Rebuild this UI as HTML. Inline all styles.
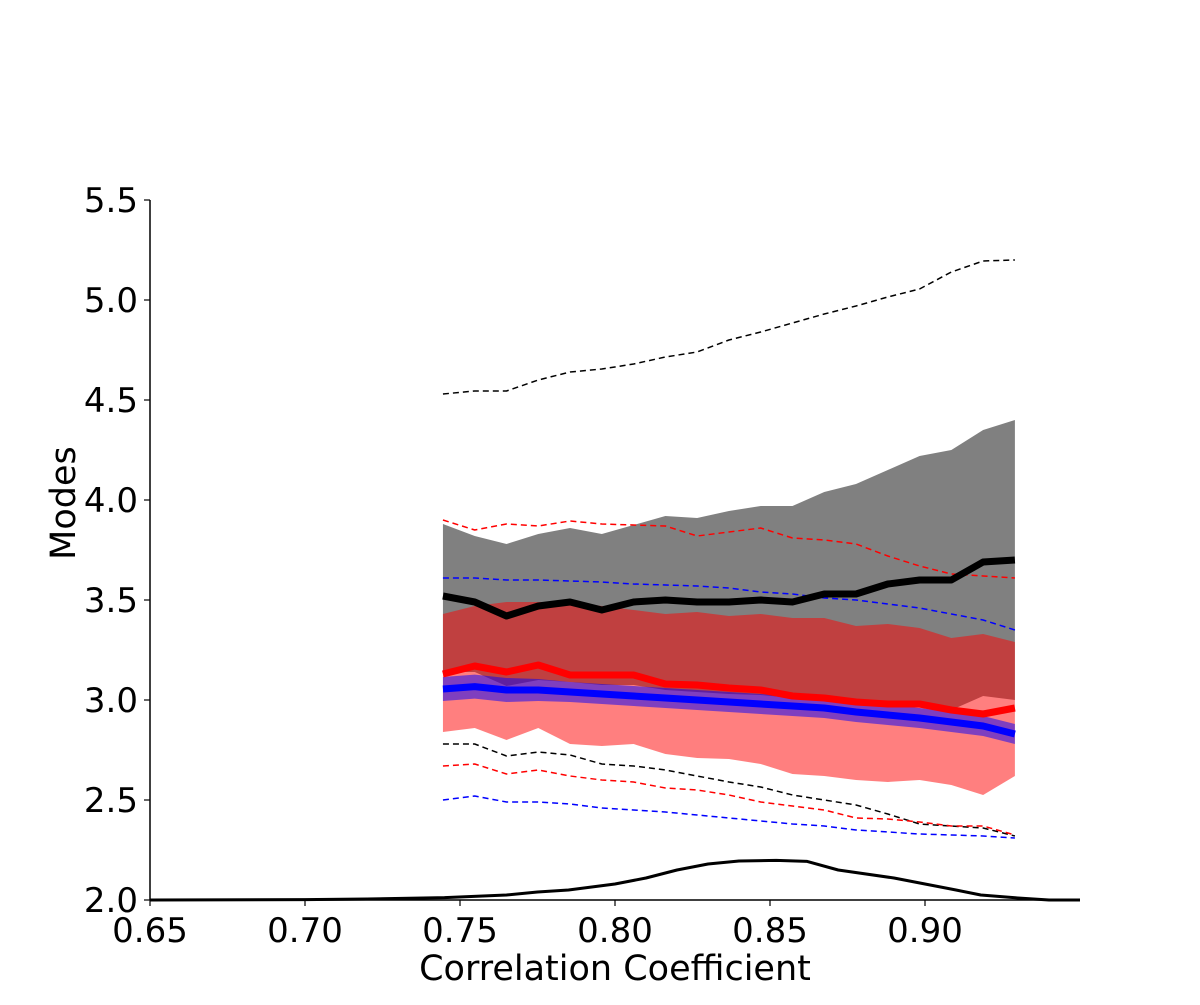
<!DOCTYPE html>
<html><head><meta charset="utf-8"><style>
body{margin:0;background:#fff}
text{font-family:"DejaVu Sans","Liberation Sans",sans-serif;fill:#000}
</style></head><body>
<svg id="chart" width="1200" height="1000" viewBox="0 0 1200 1000" xmlns="http://www.w3.org/2000/svg">
<g id="bands"></g>
<g id="lines"></g>
<g id="axes"></g>
</svg>
<script>
const xStart = 0.7445, xStep = 0.01025;
const blackMean = [3.52,3.49,3.42,3.47,3.49,3.45,3.49,3.50,3.49,3.49,3.50,3.49,3.53,3.53,3.58,3.60,3.60,3.69,3.70];
const grayTop = [3.88,3.82,3.78,3.83,3.86,3.83,3.875,3.92,3.91,3.945,3.97,3.97,4.04,4.08,4.15,4.22,4.25,4.35,4.40];
const grayBottom = [3.14,3.14,3.07,3.10,3.09,3.075,3.075,3.05,3.04,3.03,3.025,3.01,3.0,2.98,2.975,2.97,2.95,3.02,3.0];
const redMean = [3.13,3.17,3.14,3.175,3.125,3.125,3.125,3.08,3.075,3.06,3.05,3.02,3.01,2.99,2.98,2.98,2.95,2.93,2.96];
const redTop = [3.43,3.47,3.49,3.49,3.49,3.47,3.45,3.43,3.44,3.42,3.43,3.41,3.41,3.37,3.38,3.36,3.31,3.33,3.29];
const redBottom = [2.84,2.86,2.80,2.86,2.78,2.77,2.78,2.73,2.71,2.705,2.68,2.63,2.62,2.60,2.59,2.60,2.575,2.525,2.62];
const blueMean = [3.055,3.067,3.05,3.05,3.04,3.03,3.02,3.01,3.0,2.99,2.98,2.97,2.96,2.94,2.925,2.91,2.89,2.87,2.83];
const blueHalf = [0.06,0.06,0.06,0.055,0.05,0.05,0.05,0.05,0.05,0.05,0.05,0.05,0.05,0.05,0.05,0.05,0.05,0.05,0.05];
const blackUpper = [4.53,4.545,4.545,4.60,4.64,4.655,4.68,4.715,4.74,4.80,4.84,4.885,4.93,4.97,5.015,5.055,5.14,5.195,5.20];
const blackLower = [2.78,2.78,2.72,2.74,2.725,2.68,2.67,2.65,2.62,2.59,2.565,2.525,2.50,2.475,2.43,2.38,2.37,2.36,2.32];
const redUpper = [3.90,3.85,3.88,3.87,3.895,3.88,3.875,3.87,3.82,3.84,3.86,3.81,3.80,3.78,3.72,3.67,3.63,3.62,3.61];
const redLower = [2.67,2.68,2.63,2.65,2.62,2.60,2.59,2.56,2.55,2.525,2.49,2.47,2.45,2.41,2.405,2.39,2.37,2.37,2.325];
const blueUpper = [3.61,3.61,3.60,3.60,3.595,3.59,3.58,3.575,3.57,3.56,3.54,3.53,3.51,3.50,3.48,3.46,3.43,3.40,3.35];
const blueLower = [2.50,2.52,2.49,2.49,2.48,2.46,2.45,2.44,2.425,2.41,2.395,2.38,2.37,2.35,2.34,2.33,2.325,2.32,2.31];
const densX = [0.65,0.70,0.72,0.745,0.765,0.775,0.785,0.795,0.80,0.81,0.82,0.83,0.84,0.852,0.862,0.872,0.89,0.90,0.91,0.918,0.93,0.94,0.95];
const densY = [2.0,2.002,2.005,2.012,2.025,2.04,2.05,2.07,2.08,2.11,2.15,2.18,2.195,2.198,2.193,2.15,2.11,2.08,2.05,2.025,2.01,2.0,2.0];
const xTicks = [0.65,0.70,0.75,0.80,0.85,0.90];
const xTickLabels = ["0.65","0.70","0.75","0.80","0.85","0.90"];
const yTicks = [2.0,2.5,3.0,3.5,4.0,4.5,5.0,5.5];
const yTickLabels = ["2.0","2.5","3.0","3.5","4.0","4.5","5.0","5.5"];

const X = v => 150 + (v - 0.65) * 3100;
const Y = v => 900 - (v - 2.0) * 200;
const NS = "http://www.w3.org/2000/svg";
const xs = blackMean.map((_, i) => xStart + i * xStep);
function mk(tag, parent, attrs){const e=document.createElementNS(NS,tag);for(const k in attrs)e.setAttribute(k,attrs[k]);parent.appendChild(e);return e;}
const bands = document.getElementById('bands'), lines = document.getElementById('lines'), axes = document.getElementById('axes');
function band(top, bot, fill, op, name){
  const pts = xs.map((x,i)=>X(x)+','+Y(top[i])).concat(xs.map((x,i)=>X(x)+','+Y(bot[i])).reverse());
  const p = mk('polygon', bands, {points: pts.join(' '), fill: fill, 'fill-opacity': op});
  
  
}
band(grayTop, grayBottom, '#808080', 1, 'black-band');
band(redTop, redBottom, '#ff0000', 0.5, 'red-band');
band(blueMean.map((v,i)=>v+blueHalf[i]), blueMean.map((v,i)=>v-blueHalf[i]), '#0000ff', 0.5, 'blue-band');
function line(xv, yv, color, w, dash, name){
  const p = mk('polyline', lines, {points: xv.map((x,i)=>X(x)+','+Y(yv[i])).join(' '), fill:'none', stroke:color, 'stroke-width':w, 'stroke-linejoin':'round'});
  if(dash) p.setAttribute('stroke-dasharray', dash);
  
  
}
line(xs, blackUpper, '#000', 1.5, '6,4', 'black-upper-dashed');
line(xs, blackLower, '#000', 1.5, '6,4', 'black-lower-dashed');
line(xs, redUpper, '#f00', 1.5, '6,4', 'red-upper-dashed');
line(xs, redLower, '#f00', 1.5, '6,4', 'red-lower-dashed');
line(xs, blueUpper, '#00f', 1.5, '6,4', 'blue-upper-dashed');
line(xs, blueLower, '#00f', 1.5, '6,4', 'blue-lower-dashed');
line(xs, blackMean, '#000', 7, null, 'black-mean-line');
line(xs, redMean, '#f00', 7, null, 'red-mean-line');
line(xs, blueMean, '#00f', 7, null, 'blue-mean-line');
line(densX, densY, '#000', 3, null, 'density-curve');

let e = mk('line', axes, {x1:150,y1:200,x2:150,y2:900,stroke:'#000','stroke-width':1.5});


e = mk('line', axes, {x1:150,y1:900,x2:1080,y2:900,stroke:'#000','stroke-width':1.5});


yTicks.forEach((v,i)=>{
  const t = mk('line', axes, {x1:144,y1:Y(v),x2:150,y2:Y(v),stroke:'#000','stroke-width':1.2});
  
  
  const l = mk('text', axes, {x:138,y:Y(v)+12,'text-anchor':'end','font-size':34});
  l.textContent = yTickLabels[i];
  
  
});
xTicks.forEach((v,i)=>{
  const t = mk('line', axes, {x1:X(v),y1:900,x2:X(v),y2:906,stroke:'#000','stroke-width':1.2});
  
  
  const l = mk('text', axes, {x:X(v),y:942,'text-anchor':'middle','font-size':34});
  l.textContent = xTickLabels[i];
  
  
});
e = mk('text', axes, {x:615,y:980,'text-anchor':'middle','font-size':35});
e.textContent = 'Correlation Coefficient';


e = mk('text', axes, {x:75,y:503,'text-anchor':'middle','font-size':35,transform:'rotate(-90 75 503)'});
e.textContent = 'Modes';


</script>
</body></html>
